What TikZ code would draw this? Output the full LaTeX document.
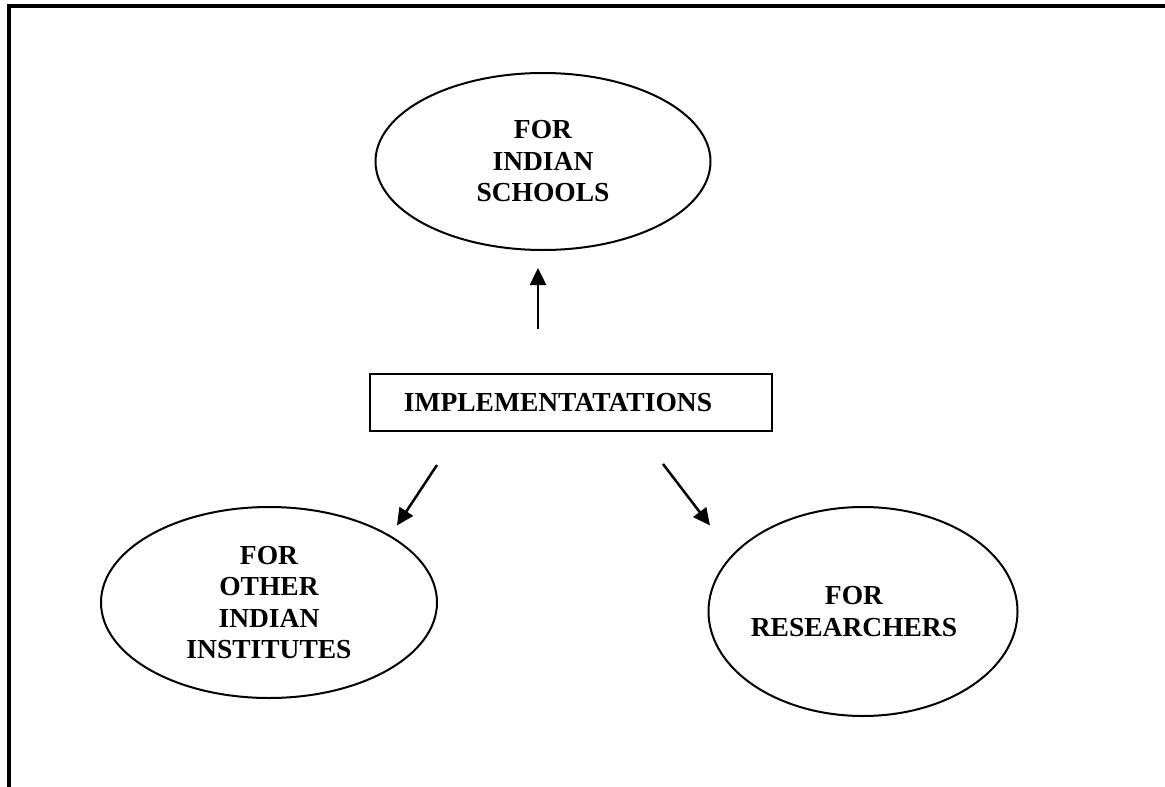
\documentclass[tikz,border=0pt]{standalone}
\usepackage{fontspec}
\setmainfont{Liberation Serif}
\usetikzlibrary{arrows.meta,calc,shapes.geometric}
\begin{document}
\begin{tikzpicture}[x=1pt,y=-1pt,
    every node/.style={font=\fontsize{27.5}{31.5}\selectfont\bfseries,align=center,inner sep=0pt},
    oval/.style={ellipse,draw,line width=2pt},
    arr/.style={-{Triangle[width=16pt,length=17pt]},line width=2.5pt}]
  \useasboundingbox (0,0) rectangle (1165,787);
  \draw[line width=4pt] (9,787) -- (9,6) -- (1165,6);
  \node[oval,minimum width=335pt,minimum height=177pt] (schools) at (543,161.5) {FOR\\INDIAN\\SCHOOLS};
  \node[draw,line width=2pt,minimum width=402pt,minimum height=57pt] (impl) at (571,402.5) {IMPLEMENTATATIONS\hspace*{26pt}};
  \node[oval,minimum width=336pt,minimum height=191pt] (institutes) at (269,602.5) {FOR\\OTHER\\INDIAN\\INSTITUTES};
  \node[oval,inner xsep=-12pt,minimum width=309pt,minimum height=209pt] (researchers) at (863,611.5) {FOR\hspace*{18pt}\\RESEARCHERS\hspace*{18pt}};
  \draw[arr] ($(impl.north)+(-33,-44)$) -- ($(schools.south)+(-5,17)$);
  \draw[arr] ($(impl.south)+(-134,33)$) -- ($(institutes)+(128,-77)$);
  \draw[arr] ($(impl.south)+(92,32)$) -- ($(researchers)+(-153,-86)$);
\end{tikzpicture}
\end{document}
